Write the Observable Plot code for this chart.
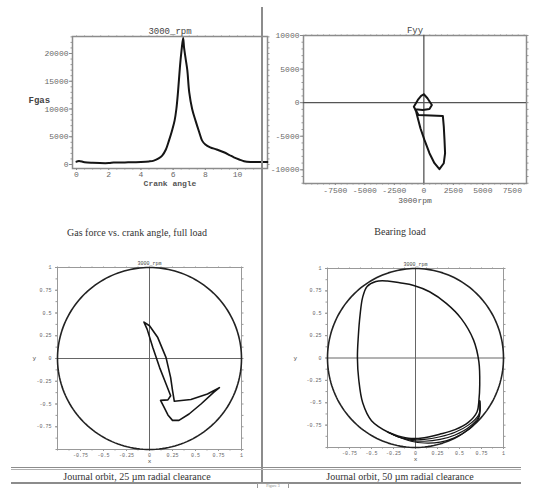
<!DOCTYPE html>
<html><head><meta charset="utf-8">
<script src="https://cdn.jsdelivr.net/npm/d3@7"></script>
<script src="https://cdn.jsdelivr.net/npm/@observablehq/plot@0.6"></script>
<style>
body{margin:0;background:#fff;}
#page{position:relative;width:533px;height:488px;overflow:hidden;background:#fff;}
.panel{position:absolute;}
.cap{position:absolute;font-family:"Liberation Serif",serif;font-size:10px;color:#333;white-space:nowrap;transform:translate(-50%,-50%);}
.rule{position:absolute;background:#8c8c8c;}
</style></head><body>
<div id="page">
  <div class="panel" id="p1" style="left:0;top:0"></div>
  <div class="panel" id="p2" style="left:262px;top:0"></div>
  <div class="panel" id="p3" style="left:0;top:240px"></div>
  <div class="panel" id="p4" style="left:262px;top:240px"></div>
  <div class="rule" style="left:261px;top:7px;width:1.5px;height:481px"></div>
  <div class="rule" style="left:11px;top:467px;width:510px;height:1px"></div>
  <div class="rule" style="left:11px;top:469px;width:510px;height:1px;background:#b0b0b0"></div>
  <div class="rule" style="left:11px;top:482px;width:510px;height:1.5px"></div>
  <div id="captions"></div>
  <div style="position:absolute;left:257px;top:483px;width:30px;height:4px;border:1px solid #999;border-bottom:none;background:#fff;font-family:'Liberation Serif',serif;font-size:4px;color:#888;text-align:center;line-height:4px;overflow:hidden">Figure 3</div>
</div>
<script>
// ---------- Panel 1: gas force vs crank angle ----------
const gasAngle = [0, 0.15, 0.5, 1, 2, 2.3, 3, 4, 4.5, 4.8, 5.1, 5.32, 5.55, 5.74, 5.92, 6.09, 6.2, 6.3, 6.42, 6.52, 6.62, 6.68, 6.78, 6.88, 7.0, 7.18, 7.39, 7.6, 7.8, 8.0, 8.3, 8.7, 9.15, 9.5, 9.77, 10.1, 10.4, 10.8, 11.3, 11.85];
const gasForce = [500, 650, 400, 300, 250, 350, 380, 450, 550, 700, 1100, 1600, 2700, 4300, 6000, 7900, 10000, 13000, 17500, 20500, 22800, 21000, 19000, 17000, 13000, 10000, 7900, 6000, 4300, 3600, 3100, 2700, 2200, 1700, 1300, 900, 600, 450, 450, 450];
const p1XTicks = [0, 2, 4, 6, 8, 10];
const p1YTicks = [0, 5000, 10000, 15000, 20000];

// ---------- Panel 2: bearing load polar ----------
const loadFx = [0, 305, 680, 475, -85, -740, -650, -510, -290, 50, 475, 900, 1320, 1690, 1800, 1750, 1690, 1610, 600, -460, -620, -850, -510, -230, 0];
const loadFy = [1250, 650, -340, -940, -1090, -990, -1340, -2320, -3810, -5550, -7530, -9020, -9910, -9020, -7530, -5550, -3570, -1980, -1900, -1830, -1300, -600, 400, 1000, 1250];
const p2XTicks = [-7500, -5000, -2500, 0, 2500, 5000, 7500];
const p2YTicks = [-10000, -5000, 0, 5000, 10000];

// ---------- Panel 3: journal orbit 25 um ----------
const orbit25X = [-0.06, 0.0, 0.09, 0.18, 0.23, 0.25, 0.27, 0.45, 0.63, 0.76, 0.70, 0.56, 0.43, 0.32, 0.25, 0.20, 0.155, 0.12, 0.20, 0.23, 0.18, 0.11, 0.036, -0.025, -0.06];
const orbit25Y = [0.40, 0.36, 0.23, 0.01, -0.21, -0.35, -0.47, -0.45, -0.39, -0.32, -0.37, -0.50, -0.61, -0.68, -0.68, -0.62, -0.53, -0.46, -0.455, -0.41, -0.28, -0.10, 0.12, 0.32, 0.40];

// ---------- Panel 4: journal orbit 50 um ----------
const orbit50X = [-0.31, -0.50, -0.60, -0.645, -0.66, -0.65, -0.63, -0.60, -0.55, -0.45, -0.32, -0.18, -0.02, 0.16, 0.35, 0.52, 0.66, 0.72, 0.73, 0.72, 0.70, 0.60, 0.45, 0.28, 0.10, -0.05, -0.20, -0.31];
const orbit50Y = [-0.83, -0.70, -0.50, -0.24, 0, 0.24, 0.48, 0.68, 0.80, 0.855, 0.86, 0.84, 0.81, 0.74, 0.61, 0.44, 0.20, -0.04, -0.30, -0.48, -0.60, -0.72, -0.80, -0.85, -0.89, -0.90, -0.87, -0.83];
const fanX = [0.73, 0.72, 0.60, 0.45, 0.28, 0.10, -0.05, -0.20, -0.31];
const fanBY = [-0.48, -0.63, -0.75, -0.83, -0.88, -0.91, -0.91, -0.88, -0.83];
const fanCY = [-0.48, -0.65, -0.78, -0.86, -0.91, -0.93, -0.92, -0.88, -0.83];
const fanDY = [-0.48, -0.67, -0.80, -0.89, -0.94, -0.95, -0.93, -0.88, -0.83];

const orbitXTicks = [-0.75, -0.5, -0.25, 0, 0.25, 0.5, 0.75, 1];
const orbitYTicks = [-0.75, -0.5, -0.25, 0, 0.25, 0.5, 0.75, 1];

const captions = [
  {text: "Gas force vs. crank angle, full load", cx: 137, cy: 232},
  {text: "Bearing load", cx: 400, cy: 231},
  {text: "Journal orbit, 25 \u00b5m radial clearance", cx: 137, cy: 476},
  {text: "Journal orbit, 50 \u00b5m radial clearance", cx: 400, cy: 476}
];

// ---------- helpers ----------
const mono = "'Liberation Mono', 'DejaVu Sans Mono', monospace";
const zip = (xs, ys) => xs.map((x, i) => ({x, y: ys[i]}));
const blank = () => "";
const plain = d => String(d);
function frameTicks(xt, yt, size) {
  return [
    Plot.axisX(xt, {anchor: "bottom", tickSize: size, tickFormat: blank, label: null, stroke: "#999"}),
    Plot.axisX(xt, {anchor: "top", tickSize: size, tickFormat: blank, label: null, stroke: "#999"}),
    Plot.axisY(yt, {anchor: "left", tickSize: size, tickFormat: blank, label: null, stroke: "#999"}),
    Plot.axisY(yt, {anchor: "right", tickSize: size, tickFormat: blank, label: null, stroke: "#999"})
  ];
}
// unit clearance circle (bearing boundary)
const circle = d3.range(0, 361, 2).map(a => ({x: Math.cos(a * Math.PI / 180), y: Math.sin(a * Math.PI / 180)}));

// ---------- Panel 1 ----------
const p1 = Plot.plot({
  width: 275, height: 200,
  marginLeft: 72, marginRight: 8, marginTop: 36, marginBottom: 32,
  style: {fontFamily: mono, fontSize: "8px", color: "#6a6a6a", background: "transparent", overflow: "visible"},
  x: {domain: [-0.25, 11.86], axis: null},
  y: {domain: [-721, 23063], axis: null},
  marks: [
    ...frameTicks(d3.range(0, 12, 0.5), d3.range(0, 23001, 1000), 1.5),
    Plot.frame({stroke: "#8c8c8c", strokeWidth: 1.5}),
    Plot.axisX(p1XTicks, {anchor: "bottom", tickSize: 2, tickPadding: 1, tickFormat: plain, label: null, stroke: "#888"}),
    Plot.axisY(p1YTicks, {anchor: "left", tickSize: 3, tickPadding: 1, tickFormat: plain, label: null, stroke: "#888"}),
    Plot.line(zip(gasAngle, gasForce), {x: "x", y: "y", stroke: "#151515", strokeWidth: 2, curve: "catmull-rom"}),
    Plot.text(["3000_rpm"], {text: d => d, frameAnchor: "top", dy: -9, fontSize: 9, fill: "#444"}),
    Plot.text(["Crank angle"], {text: d => d, frameAnchor: "bottom", dy: 17, fontSize: 8, fontWeight: "bold", fill: "#555"}),
    Plot.text(["Fgas"], {text: d => d, frameAnchor: "left", dx: -44, dy: -2, fontSize: 9, fontWeight: "bold", fill: "#444"})
  ]
});
document.getElementById("p1").append(p1);

// ---------- Panel 2 ----------
const p2 = Plot.plot({
  width: 271, height: 210,
  marginLeft: 41, marginRight: 7, marginTop: 35, marginBottom: 27,
  style: {fontFamily: mono, fontSize: "8px", color: "#6a6a6a", background: "transparent", overflow: "visible"},
  x: {domain: [-10200, 8700], axis: null},
  y: {domain: [-12040, 10000], axis: null},
  marks: [
    ...frameTicks(d3.range(-10000, 8701, 500), d3.range(-12000, 10001, 1000), 1.5),
    Plot.frame({stroke: "#8c8c8c", strokeWidth: 1.5}),
    Plot.ruleX([0], {stroke: "#555", strokeWidth: 1.3}),
    Plot.ruleY([0], {stroke: "#555", strokeWidth: 1.3}),
    Plot.axisX(p2XTicks, {anchor: "bottom", tickSize: 2, tickPadding: 2, tickFormat: plain, label: null, stroke: "#888"}),
    Plot.axisY(p2YTicks, {anchor: "left", tickSize: 3, tickPadding: 1, tickFormat: plain, label: null, stroke: "#888"}),
    Plot.line(zip(loadFx, loadFy), {x: "x", y: "y", stroke: "#151515", strokeWidth: 2, strokeLinejoin: "round"}),
    Plot.text(["Fyy"], {text: d => d, frameAnchor: "top", dy: -9, fontSize: 9, fill: "#444"}),
    Plot.text(["3000rpm"], {text: d => d, frameAnchor: "bottom", dy: 19, fontSize: 8, fill: "#555"})
  ]
});
document.getElementById("p2").append(p2);

// ---------- orbit panels ----------
function orbitPlot(opts) {
  return Plot.plot({
    width: opts.width, height: 235,
    marginLeft: opts.ml, marginRight: opts.mr, marginTop: opts.mt, marginBottom: opts.mb,
    style: {fontFamily: mono, fontSize: "5px", color: "#666", background: "transparent", overflow: "visible"},
    x: {domain: [-1, 1], axis: null},
    y: {domain: [-1, 1], axis: null},
    marks: [
      ...frameTicks(d3.range(-1, 1.001, 0.125), d3.range(-1, 1.001, 0.125), 1.5),
      Plot.frame({stroke: "#999", strokeWidth: 1}),
      Plot.ruleX([0], {stroke: "#666", strokeWidth: 1}),
      Plot.ruleY([0], {stroke: "#666", strokeWidth: 1}),
      Plot.axisX(orbitXTicks, {anchor: "bottom", tickSize: 2, tickPadding: 2, tickFormat: plain, label: null, stroke: "#999"}),
      Plot.axisY(orbitYTicks, {anchor: "left", tickSize: 2, tickPadding: 4, tickFormat: plain, label: null, stroke: "#999"}),
      Plot.line(circle, {x: "x", y: "y", stroke: "#222", strokeWidth: 1.6}),
      ...opts.lines,
      Plot.text(["3000_rpm"], {text: d => d, frameAnchor: "top", dy: -6, fontSize: 5, fill: "#444"}),
      Plot.text(["x"], {text: d => d, frameAnchor: "bottom", dy: 13, fontSize: 6, fill: "#444"}),
      Plot.text(["y"], {text: d => d, frameAnchor: "left", dx: opts.ydx, fontSize: 6, fill: "#444"})
    ]
  });
}

const p3 = orbitPlot({
  width: 262, ml: 57, mr: 21, mt: 27, mb: 26, ydx: -25,
  lines: [Plot.line(zip(orbit25X, orbit25Y), {x: "x", y: "y", stroke: "#151515", strokeWidth: 1.6, strokeLinejoin: "round"})]
});
document.getElementById("p3").append(p3);

const p4 = orbitPlot({
  width: 271, ml: 65, mr: 30, mt: 28, mb: 28, ydx: -34,
  lines: [
    Plot.line(zip(orbit50X, orbit50Y), {x: "x", y: "y", stroke: "#151515", strokeWidth: 1.5, curve: "catmull-rom"}),
    Plot.line(zip(fanX, fanBY), {x: "x", y: "y", stroke: "#151515", strokeWidth: 1.2, curve: "catmull-rom"}),
    Plot.line(zip(fanX, fanCY), {x: "x", y: "y", stroke: "#151515", strokeWidth: 1.2, curve: "catmull-rom"}),
    Plot.line(zip(fanX, fanDY), {x: "x", y: "y", stroke: "#151515", strokeWidth: 1.2, curve: "catmull-rom"})
  ]
});
document.getElementById("p4").append(p4);

// ---------- captions ----------
const capBox = document.getElementById("captions");
for (const c of captions) {
  const d = document.createElement("div");
  d.className = "cap";
  d.style.left = c.cx + "px";
  d.style.top = c.cy + "px";
  d.textContent = c.text;
  capBox.append(d);
}
</script>
</body></html>
